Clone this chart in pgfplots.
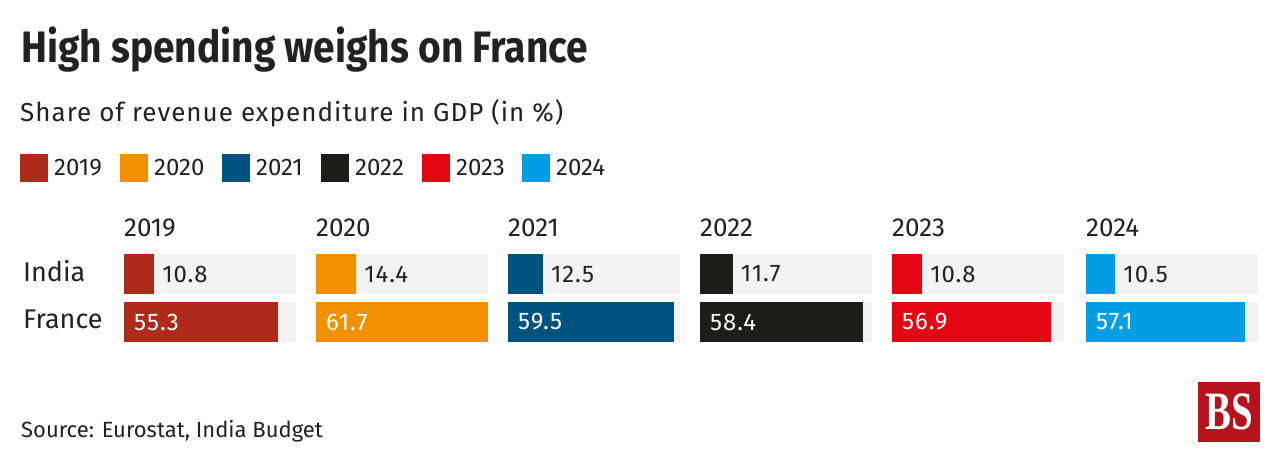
\documentclass[border=0pt]{standalone}
\usepackage{fontspec}
\setmainfont{Fira Sans}
\newfontfamily\spaced[LetterSpace=4]{Fira Sans}
\newfontfamily\bsfont{Liberation Serif}
\usepackage{pgfplots}
\pgfplotsset{compat=1.18}

\definecolor{c2019}{HTML}{AE2A1A}
\definecolor{c2020}{HTML}{F29100}
\definecolor{c2021}{HTML}{00527F}
\definecolor{c2022}{HTML}{1D1D1B}
\definecolor{c2023}{HTML}{E30613}
\definecolor{c2024}{HTML}{009FE3}
\definecolor{bggrey}{HTML}{F3F3F3}
\definecolor{txt}{HTML}{222222}
\definecolor{bsred}{HTML}{B5121B}

\newcommand\fs[1]{\fontsize{#1}{#1}\selectfont}

% #1 left edge, #2 colour, #3 year, #4 India, #5 France
\newcommand\panel[5]{%
  \node[anchor=base west, inner sep=0, text=txt, font=\fs{26}] at (#1pt,-237pt) {#3};
  \begin{axis}[
      at={(#1pt,-346pt)}, anchor=south west,
      scale only axis, width=172pt, height=96pt,
      xmin=0, xmax=61.7, ymin=-0.5, ymax=1.5,
      hide axis, clip=false,
      xbar, bar width=40pt, bar shift=0pt,
      /pgf/number format/.cd, fixed, fixed zerofill, precision=1, assume math mode=true,
  ]
    \addplot[draw=none, fill=bggrey] coordinates {(61.7,0) (61.7,1)};
    \addplot[draw=none, fill=#2, nodes near coords,
      nodes near coords style={anchor=west, inner sep=0, xshift=8pt, text=txt, font=\spaced\fs{24}}]
      coordinates {(#4,1)};
    \addplot[draw=none, fill=#2] coordinates {(#5,0)};
    \node[anchor=west, inner sep=0, xshift=10pt, text=white, font=\spaced\fs{24}] at (axis cs:0,0) {#5};
  \end{axis}}

\begin{document}
\begin{tikzpicture}
  \fill[white] (0,0) rectangle (1280pt,-462pt);

  \node[anchor=base west, inner sep=0, text=txt, font=\bfseries\fs{44}] at (21pt,-63pt)
    {\scalebox{0.885}[1]{High spending weighs on France}};
  \node[anchor=base west, inner sep=0, text=txt, font=\spaced\fs{26}] at (20pt,-122pt)
    {Share of revenue expenditure in GDP (in \%)};

  % legend
  \foreach \x/\c/\y in {20/c2019/2019, 120/c2020/2020, 222/c2021/2021,
                        321/c2022/2022, 422/c2023/2023, 522/c2024/2024} {
    \fill[\c] (\x pt,-154pt) rectangle ++(28pt,-28pt);
    \node[anchor=base west, inner sep=0, text=txt, font=\fs{24}] at (\x pt+34pt,-176pt) {\y};
  }

  \node[anchor=base west, inner sep=0, text=txt, font=\fs{27}] at (23pt,-282pt) {India};
  \node[anchor=base west, inner sep=0, text=txt, font=\fs{27}] at (23pt,-329pt) {France};

  \panel{124}{c2019}{2019}{10.8}{55.3}
  \panel{316}{c2020}{2020}{14.4}{61.7}
  \panel{508}{c2021}{2021}{12.5}{59.5}
  \panel{700}{c2022}{2022}{11.7}{58.4}
  \panel{892}{c2023}{2023}{10.8}{56.9}
  \panel{1086}{c2024}{2024}{10.5}{57.1}

  \node[anchor=base west, inner sep=0, text=txt, font=\fs{22}] at (21pt,-437pt)
    {Source: Eurostat, India Budget};

  % logo
  \fill[bsred] (1198pt,-382pt) rectangle (1260pt,-442pt);
  \node[anchor=base, inner sep=0, text=white, font=\bsfont\bfseries\fs{54}] at (1229pt,-429pt)
    {\scalebox{0.72}[1]{BS}};
\end{tikzpicture}
\end{document}
